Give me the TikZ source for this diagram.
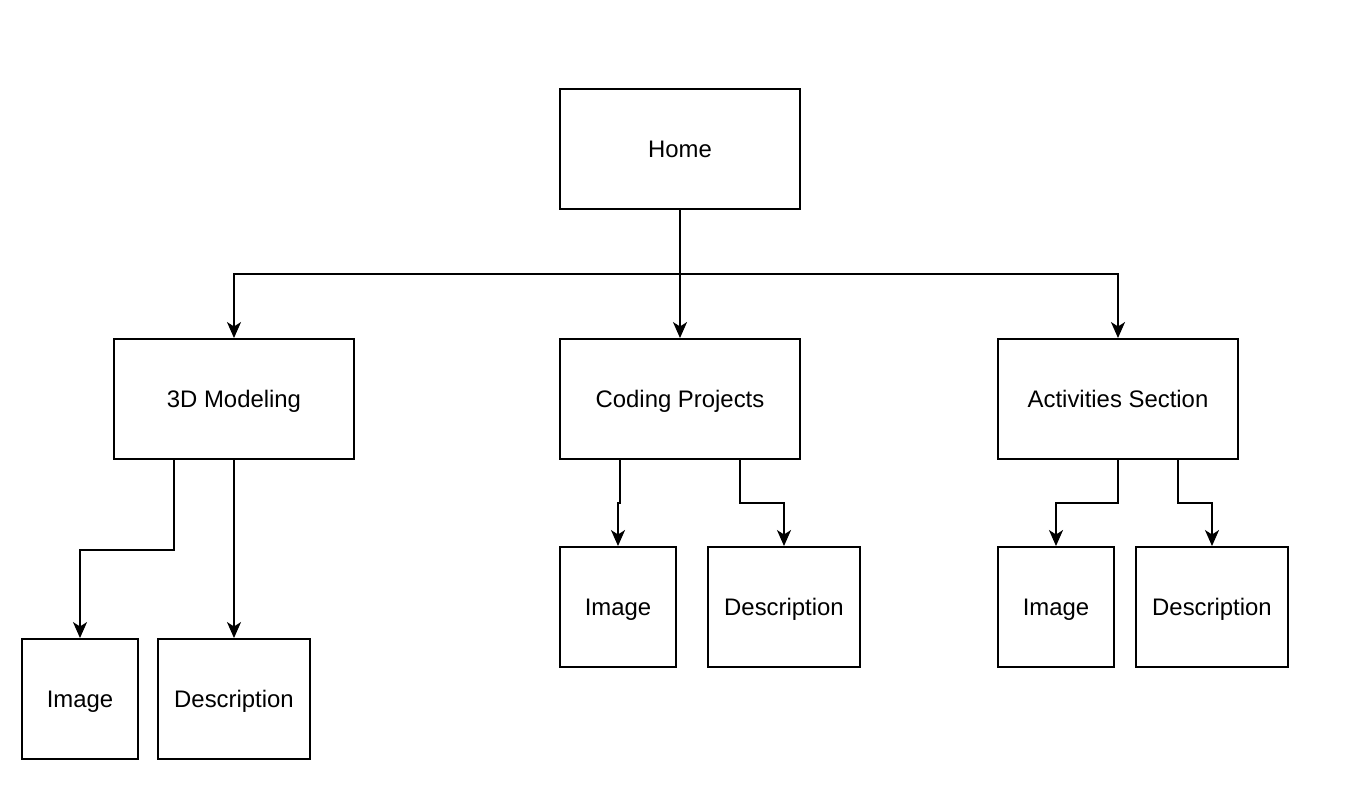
\documentclass[tikz,border=0pt]{standalone}
\usepackage{fontspec}
\setmainfont{Liberation Sans}
\usepackage{tikz}
\usetikzlibrary{calc,positioning,arrows,arrows.meta}
\tikzstyle{page} = [rectangle, minimum width=4.8cm, minimum height=2.4cm, text centered, text height=2.2ex, text depth=0.35ex, draw=black, line width=1.1pt, font=\fontsize{13.6}{16}\selectfont]
\tikzstyle{image} = [page, minimum width=2.32cm]
\tikzstyle{description} = [page, minimum width=3.04cm]
\tikzstyle{arrow} = [line width=1.1pt,-{Stealth[length=0.32cm,width=0.28cm,inset=0.09cm]}]

\begin{document}
\begin{tikzpicture}
			\useasboundingbox (0,0) rectangle (26.96,-16.22);
			\node[page] (home) at (13.6,-2.98) {Home};
			\node[page] (modeling) at (4.68,-7.98) {3D Modeling};
			\node[page] (coding) at (13.6,-7.98) {Coding Projects};
			\node[page] (activities) at (22.36,-7.98) {Activities Section};
			
			\node[image] (imageModeling) at (1.6,-13.98) {Image};
			\node[description] (descModeling) at (4.68,-13.98) {Description};
			\node[image] (imageCoding) at (12.36,-12.14) {Image};
			\node[description] (descCoding) at (15.68,-12.14) {Description};
			\node[image] (imageActivities) at (21.12,-12.14) {Image};
			\node[description] (descActivities) at (24.24,-12.14) {Description};
			
			\coordinate (split) at (13.6,-5.48);
			\draw[line width=1.1pt] (home) -- (split);
			\draw[arrow] (split) -| (modeling);
			\draw[arrow] (split) -- (coding);
			\draw[arrow] (split) -| (activities);
			
			\draw[arrow] ([xshift=-1.2cm]modeling.south) -- ++(0,-1.8) -| (imageModeling);
			\draw[arrow] (modeling) -- (descModeling);
			\draw[arrow] ([xshift=-1.2cm]coding.south) -- ++(0,-0.86) -| (imageCoding);
			\draw[arrow] ([xshift=1.2cm]coding.south) -- ++(0,-0.86) -| (descCoding);
			\draw[arrow] (activities.south) -- ++(0,-0.86) -| (imageActivities);
			\draw[arrow] ([xshift=1.2cm]activities.south) -- ++(0,-0.86) -| (descActivities);
\end{tikzpicture}
\end{document}
